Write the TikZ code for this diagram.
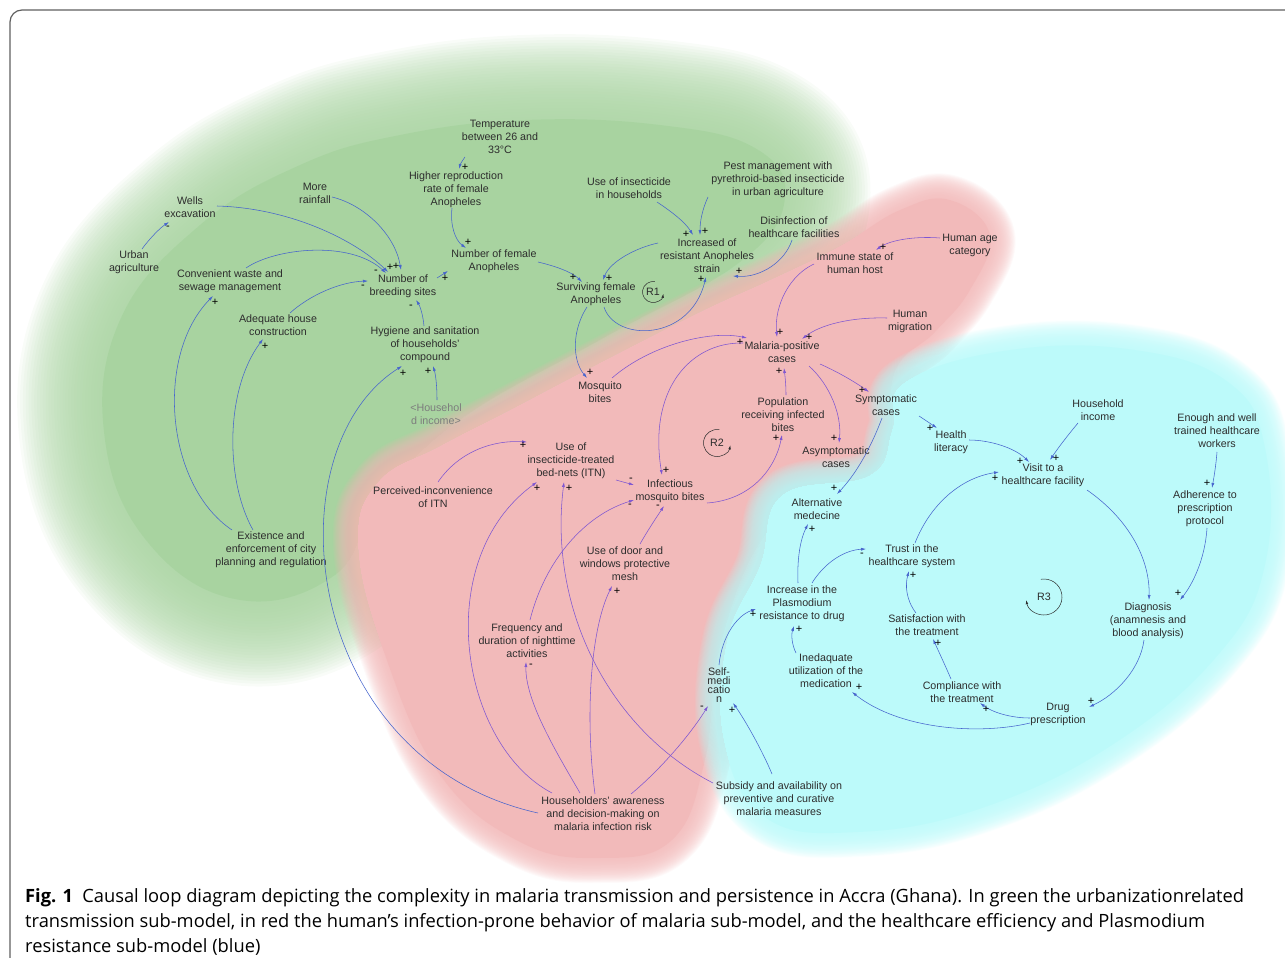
\documentclass[tikz,border=0pt]{standalone}
\usepackage{fontspec}
\setmainfont{Liberation Sans}
\newfontfamily\capfont{Open Sans}
\usetikzlibrary{arrows.meta,calc,positioning}
\definecolor{greenbg}{RGB}{168,211,160}
\definecolor{redbg}{RGB}{242,186,186}
\definecolor{cyanbg}{RGB}{188,250,250}
\definecolor{linkblue}{RGB}{70,100,205}
\definecolor{linkviolet}{RGB}{125,85,210}
\definecolor{txtgray}{RGB}{45,45,45}
\definecolor{shadowgray}{RGB}{125,125,125}
\definecolor{framegray}{RGB}{95,95,95}
\newcommand\varfont{\fontsize{10.7}{13}\selectfont}
\newcommand\selffont{\fontsize{10.7}{9}\selectfont}
\newcommand\softblob[3]{%
  \fill[#1] plot[smooth cycle, tension=0.7] coordinates {#3};
  \foreach \w in {1,...,30}
    \draw[#1, opacity=0.07, line width=#2*\w/30, line join=round]
      plot[smooth cycle, tension=0.7] coordinates {#3};
}
\tikzset{
  var/.style={align=center, inner sep=0.5pt, font=\varfont, text=txtgray},
  lnk/.style={draw=linkblue, line width=0.55pt, -{Latex[length=5pt,width=3pt]}},
  rlnk/.style={lnk, draw=linkviolet},
  sgn/.style={font=\fontsize{11}{11}\selectfont, inner sep=0pt, text=black},
  sg/.style 2 args={sgn, xshift=#1, yshift=#2},
  loopmark/.style={font=\varfont, inner sep=0pt, text=txtgray},
  looparc/.style={draw=txtgray, line width=0.5pt, -{Latex[length=4pt,width=2.6pt]}},
  capt/.style={align=left, inner sep=0pt, font=\capfont\fontsize{18.3}{25}\selectfont, text=black}
}
\begin{document}
\begin{tikzpicture}[x=1pt,y=-1pt]
\useasboundingbox (0,0) rectangle (1285,958);
% sub-model areas
\softblob{greenbg}{170}{(150,545) (105,440) (120,320) (200,225) (300,165) (400,135) (525,120) (660,125) (755,148) (785,198) (740,262) (600,340) (460,420) (380,500) (335,575) (240,600)}
\softblob{redbg}{50}{(900,210) (950,200) (990,235) (970,290) (935,332) (895,372) (888,450) (845,492) (770,530) (722,640) (705,760) (672,840) (600,858) (520,842) (440,775) (385,655) (358,545) (378,482) (440,446) (510,410) (590,368) (700,312) (770,280) (840,246)}
\softblob{cyanbg}{50}{(905,382) (1010,350) (1135,350) (1228,382) (1265,448) (1265,565) (1218,655) (1112,745) (982,808) (858,832) (766,818) (724,742) (727,640) (760,565) (782,495) (870,475) (892,430)}
\draw[framegray, line width=1.2pt, rounded corners=12pt] (1300,10) -- (10,10) -- (10,975);

% variables
\node[var] (temp) at (500,137) {Temperature\\between 26 and\\33°C};
\node[var] (hrr) at (456,190) {Higher reproduction\\rate of female\\Anopheles};
\node[var] (wells) at (190,207) {Wells\\excavation};
\node[var] (rain) at (315,193) {More\\rainfall};
\node[var] (urb) at (134,262) {Urban\\agriculture};
\node[var] (cwsm) at (230,281) {Convenient waste and\\sewage management};
\node[var] (nbs) at (403,286) {Number of\\breeding sites};
\node[var] (nfa) at (494,261) {Number of female\\Anopheles};
\node[var] (ahc) at (278,325) {Adequate house\\construction};
\node[var] (hyg) at (425,345) {Hygiene and sanitation\\of households'\\compound};
\node[var, text=shadowgray] (hhinc) at (436,414) {<Househol\\d income>};
\node[var] (exist) at (271,550) {Existence and\\enforcement of city\\planning and regulation};
\node[var] (uih) at (629,188) {Use of insecticide\\in households};
\node[var] (pest) at (778,180) {Pest management with\\pyrethroid-based insecticide\\in urban agriculture};
\node[var] (disinf) at (794,227) {Disinfection of\\healthcare facilities};
\node[var] (ira) at (707,256) {Increased of\\resistant Anopheles\\strain};
\node[var] (sfa) at (596,294) {Surviving female\\Anopheles};
\node[var] (immune) at (855,263) {Immune state of\\human host};
\node[var] (age) at (970,245) {Human age\\category};
\node[var] (migr) at (910,321) {Human\\migration};
\node[var] (mpc) at (782,352) {Malaria-positive\\cases};
\node[var] (mosq) at (600,392) {Mosquito\\bites};
\node[var] (pop) at (783,415) {Population\\receiving infected\\bites};
\node[var] (sympt) at (886,405) {Symptomatic\\cases};
\node[var] (asym) at (836,457) {Asymptomatic\\cases};
\node[var] (itn) at (571,461) {Use of\\insecticide-treated\\bed-nets (ITN)};
\node[var] (perc) at (433,497) {Perceived-inconvenience\\of ITN};
\node[var] (inf) at (670,491) {Infectious\\mosquito bites};
\node[var] (door) at (625,564) {Use of door and\\windows protective\\mesh};
\node[var] (freq) at (527,641) {Frequency and\\duration of nighttime\\activities};
\node[var] (aware) at (603,814) {Householders' awareness\\and decision-making on\\malaria infection risk};
\node[var] (health) at (951,442) {Health\\literacy};
\node[var] (hinc) at (1098,410) {Household\\income};
\node[var] (enough) at (1217,431) {Enough and well\\trained healthcare\\workers};
\node[var] (visit) at (1043,475) {Visit to a\\healthcare facility};
\node[var] (alt) at (817,509) {Alternative\\medecine};
\node[var] (adh) at (1205,509) {Adherence to\\prescription\\protocol};
\node[var] (trust) at (912,556) {Trust in the\\healthcare system};
\node[var] (incr) at (802,604) {Increase in the\\Plasmodium\\resistance to drug};
\node[var] (sat) at (927,625) {Satisfaction with\\the treatment};
\node[var] (diag) at (1148,621) {Diagnosis\\(anamnesis and\\blood analysis)};
\node[var, font=\selffont] (self) at (719,685) {Self-\\medi\\catio\\n};
\node[var] (ined) at (826,671) {Inedaquate\\utilization of the\\medication};
\node[var] (comp) at (962,692) {Compliance with\\the treatment};
\node[var] (drug) at (1058,714) {Drug\\prescription};
\node[var] (subs) at (779,799) {Subsidy and availability on\\preventive and curative\\malaria measures};

% loops
\node[loopmark] (r1) at (653,292) {R1};
\node[loopmark] (r2) at (717,443) {R2};
\node[loopmark] (r3) at (1044,597) {R3};
\draw[looparc] ([shift={(-80:10.5)}]r1.center) arc[start angle=-80, end angle=-350, radius=10.5];
\draw[looparc] ([shift={(-80:13.5)}]r2.center) arc[start angle=-80, end angle=-350, radius=13.5];
\draw[looparc] ([shift={(-100:18)}]r3.center) arc[start angle=-100, end angle=170, radius=18];

% urbanization links
\draw[lnk] ($(urb.center)+(8,-13)$) .. controls (150,238) and (160,228) .. ($(wells.center)+(-21,15)$) node[sg={-1}{-6}]{-};
\draw[lnk] ($(wells.center)+(27,-1)$) .. controls (290,208) and (355,240) .. ($(nbs.center)+(-15,-14)$) node[sg={2}{5}]{+};
\draw[lnk] ($(rain.center)+(17,4)$) .. controls (365,205) and (395,235) .. ($(nbs.center)+(-2,-16)$) node[sg={-5}{4}]{+};
\draw[lnk] ($(cwsm.center)+(16,-13)$) .. controls (275,248) and (350,240) .. ($(nbs.center)+(-17,-13)$) node[sg={-10}{1}]{-};
\draw[lnk] ($(ahc.center)+(12,-12)$) .. controls (310,295) and (340,282) .. ($(nbs.center)+(-35,-5)$) node[sg={-5}{-6}]{-};
\draw[lnk] ($(hyg.center)+(-1,-19)$) .. controls (423,315) and (420,306) .. ($(nbs.center)+(13,14)$) node[sg={-5}{-7}]{-};
\draw[lnk] ($(hhinc.center)+(1,-14)$) .. controls (437,388) and (436,376) .. ($(hyg.center)+(8,21)$) node[sg={-5}{-5}]{+};
\draw[lnk] ($(exist.center)+(-39,-20)$) .. controls (165,485) and (155,355) .. ($(cwsm.center)+(-17,15)$) node[sg={2}{-6}]{+};
\draw[lnk] ($(exist.center)+(-18,-20)$) .. controls (225,480) and (225,390) .. ($(ahc.center)+(-15,14)$) node[sg={2}{-7}]{+};
\draw[lnk] ($(aware.center)+(-65,-1)$) .. controls (300,760) and (270,450) .. ($(hyg.center)+(-23,21)$) node[sg={1}{-7}]{+};
\draw[lnk] ($(temp.center)+(-35,20)$) .. controls (462,161) and (460,165) .. ($(hrr.center)+(3,-21)$) node[sg={6}{2}]{+};
\draw[lnk] ($(hrr.center)+(-4,18)$) .. controls (450,225) and (455,240) .. ($(nfa.center)+(-28,-13)$) node[sg={2}{6}]{+};
\draw[lnk] ($(nbs.center)+(34,-8)$) -- ($(nfa.center)+(-46,10)$) node[sg={-3}{-7}]{+};
\draw[lnk] ($(nfa.center)+(44,1)$) .. controls (555,266) and (572,272) .. ($(sfa.center)+(-14,-12)$) node[sg={-9}{5}]{+};
\draw[lnk] ($(uih.center)+(28,14)$) .. controls (672,212) and (685,222) .. ($(ira.center)+(-14,-21)$) node[sg={-7}{1}]{+};
\draw[lnk] ($(pest.center)+(-70,17)$) .. controls (702,210) and (700,222) .. ($(ira.center)+(-7,-21)$) node[sg={5}{4}]{+};
\draw[lnk] ($(disinf.center)+(-2,13)$) .. controls (785,262) and (760,278) .. ($(ira.center)+(26,20)$) node[sg={6}{5}]{+};
\draw[lnk] ($(ira.center)+(-49,-13)$) .. controls (635,248) and (610,262) .. ($(sfa.center)+(7,-14)$) node[sg={6}{2}]{+};
\draw[lnk] ($(sfa.center)+(8,13)$) .. controls (615,342) and (690,342) .. ($(ira.center)+(-1,21)$) node[sg={-5}{-2}]{+};
\draw[lnk] ($(sfa.center)+(-9,13)$) .. controls (572,330) and (572,360) .. ($(mosq.center)+(-13,-14)$) node[sg={3}{6}]{+};

% infection-prone behaviour links
\draw[rlnk] ($(mosq.center)+(12,-14)$) .. controls (650,345) and (710,330) .. ($(mpc.center)+(-35,-14)$) node[sg={-7}{-4}]{+};
\draw[rlnk] ($(mpc.center)+(-39,-9)$) .. controls (690,342) and (648,390) .. ($(inf.center)+(-8,-16)$) node[sg={4}{5}]{+};
\draw[rlnk] ($(immune.center)+(-41,1)$) .. controls (790,275) and (774,305) .. ($(mpc.center)+(-5,-15)$) node[sg={3}{5}]{+};
\draw[rlnk] ($(age.center)+(-30,-7)$) .. controls (915,236) and (890,240) .. ($(immune.center)+(21,-13)$) node[sg={7}{3}]{+};
\draw[rlnk] ($(migr.center)+(-23,-3)$) .. controls (850,317) and (820,325) .. ($(mpc.center)+(20,-13)$) node[sg={7}{2}]{+};
\draw[rlnk] ($(pop.center)+(3,-20)$) .. controls (786,385) and (785,376) .. ($(mpc.center)+(2,16)$) node[sg={-5}{-3}]{+};
\draw[rlnk] ($(mpc.center)+(38,12)$) .. controls (838,372) and (855,382) .. ($(sympt.center)+(-17,-13)$) node[sg={-7}{2}]{+};
\draw[rlnk] ($(mpc.center)+(27,14)$) .. controls (830,385) and (842,415) .. ($(asym.center)+(3,-14)$) node[sg={-5}{5}]{+};
\draw[rlnk] ($(inf.center)+(37,12)$) .. controls (750,500) and (775,470) .. ($(pop.center)+(-1,20)$) node[sg={-6}{-3}]{+};
\draw[rlnk] ($(itn.center)+(45,19)$) -- ($(inf.center)+(-36,-6)$) node[sg={-3}{5}]{-};
\draw[rlnk] ($(perc.center)+(5,-15)$) .. controls (460,450) and (495,440) .. ($(itn.center)+(-44,-19)$) node[sg={-4}{-3}]{+};
\draw[rlnk] ($(aware.center)+(-51,-21)$) .. controls (460,745) and (430,560) .. ($(itn.center)+(-34,21)$) node[sg={0}{-6}]{+};
\draw[rlnk] ($(subs.center)+(-66,-16)$) .. controls (610,730) and (548,610) .. ($(itn.center)+(-7,21)$) node[sg={5}{-6}]{+};
\draw[rlnk] ($(aware.center)+(-23,-21)$) .. controls (555,750) and (525,700) .. ($(freq.center)+(-1,21)$) node[sg={5}{-4}]{-};
\draw[rlnk] ($(freq.center)+(3,-21)$) .. controls (545,560) and (585,515) .. ($(inf.center)+(-36,9)$) node[sg={-4}{-6}]{-};
\draw[rlnk] ($(door.center)+(15,-20)$) .. controls (648,530) and (656,518) .. ($(inf.center)+(-6,15)$) node[sg={-6}{-1}]{-};
\draw[rlnk] ($(aware.center)+(-8,-20)$) .. controls (585,720) and (590,630) .. ($(door.center)+(-13,22)$) node[sg={5}{-5}]{+};
\draw[rlnk] ($(aware.center)+(28,-20)$) .. controls (660,770) and (690,735) .. ($(self.center)+(-11,21)$) node[sg={-6}{-2}]{-};
\draw[lnk] ($(subs.center)+(-7,-25)$) .. controls (762,750) and (745,720) .. ($(self.center)+(14,18)$) node[sg={-1}{-7}]{+};

% healthcare and resistance links
\draw[lnk] ($(sympt.center)+(33,11)$) -- ($(health.center)+(-14,-14)$) node[sg={-7}{0}]{+};
\draw[lnk] ($(sympt.center)+(-4,13)$) .. controls (870,450) and (855,475) .. ($(alt.center)+(20,-15)$) node[sg={-3}{6}]{+};
\draw[lnk] ($(health.center)+(18,-2)$) .. controls (990,440) and (1015,448) .. ($(visit.center)+(-14,-13)$) node[sg={-9}{1}]{+};
\draw[lnk] ($(hinc.center)+(-20,13)$) .. controls (1068,435) and (1058,448) .. ($(visit.center)+(7,-15)$) node[sg={6}{2}]{+};
\draw[lnk] ($(enough.center)+(0,21)$) .. controls (1216,465) and (1214,477) .. ($(adh.center)+(7,-21)$) node[sg={-5}{5}]{+};
\draw[lnk] ($(adh.center)+(2,19)$) .. controls (1205,560) and (1192,585) .. ($(diag.center)+(32,-21)$) node[sg={-2}{7}]{+};
\draw[lnk] ($(visit.center)+(44,15)$) .. controls (1130,520) and (1150,560) .. ($(diag.center)+(1,-21)$);
\draw[lnk] ($(diag.center)+(-4,19)$) .. controls (1140,670) and (1115,695) .. ($(drug.center)+(31,-7)$) node[sg={2}{6}]{+};
\draw[lnk] ($(drug.center)+(-28,4)$) .. controls (1010,718) and (992,712) .. ($(comp.center)+(18,11)$) node[sg={6}{-6}]{+};
\draw[lnk] ($(drug.center)+(-28,9)$) .. controls (980,735) and (900,730) .. ($(ined.center)+(26,21)$) node[sg={7}{5}]{+};
\draw[lnk] ($(comp.center)+(-11,-13)$) .. controls (945,665) and (938,650) .. ($(sat.center)+(6,14)$) node[sg={5}{-4}]{+};
\draw[lnk] ($(sat.center)+(-11,-12)$) .. controls (906,600) and (905,585) .. ($(trust.center)+(-3,15)$) node[sg={4}{-4}]{+};
\draw[lnk] ($(trust.center)+(3,-13)$) .. controls (930,505) and (960,478) .. ($(visit.center)+(-44,-3)$) node[sg={-4}{-6}]{+};
\draw[lnk] ($(incr.center)+(10,-21)$) .. controls (825,562) and (845,550) .. ($(trust.center)+(-46,-7)$) node[sg={-4}{-6}]{-};
\draw[lnk] ($(incr.center)+(-4,-21)$) .. controls (797,560) and (800,540) .. ($(alt.center)+(-9,15)$) node[sg={4}{-5}]{+};
\draw[lnk] ($(ined.center)+(-30,-18)$) .. controls (792,645) and (791,635) .. ($(incr.center)+(-8,22)$) node[sg={5}{-3}]{+};
\draw[lnk] ($(self.center)+(0,-20)$) .. controls (722,635) and (738,615) .. ($(incr.center)+(-46,5)$) node[sg={-3}{-5}]{+};

% caption
\node[capt, anchor=north west] (caption) at (25,888) {\textbf{Fig. 1}\enspace Causal loop diagram depicting the complexity in malaria transmission and persistence in Accra (Ghana). In green the urbanizationrelated\\transmission sub-model, in red the human’s infection-prone behavior of malaria sub-model, and the healthcare efficiency and Plasmodium\\resistance sub-model (blue)};
\end{tikzpicture}
\end{document}
